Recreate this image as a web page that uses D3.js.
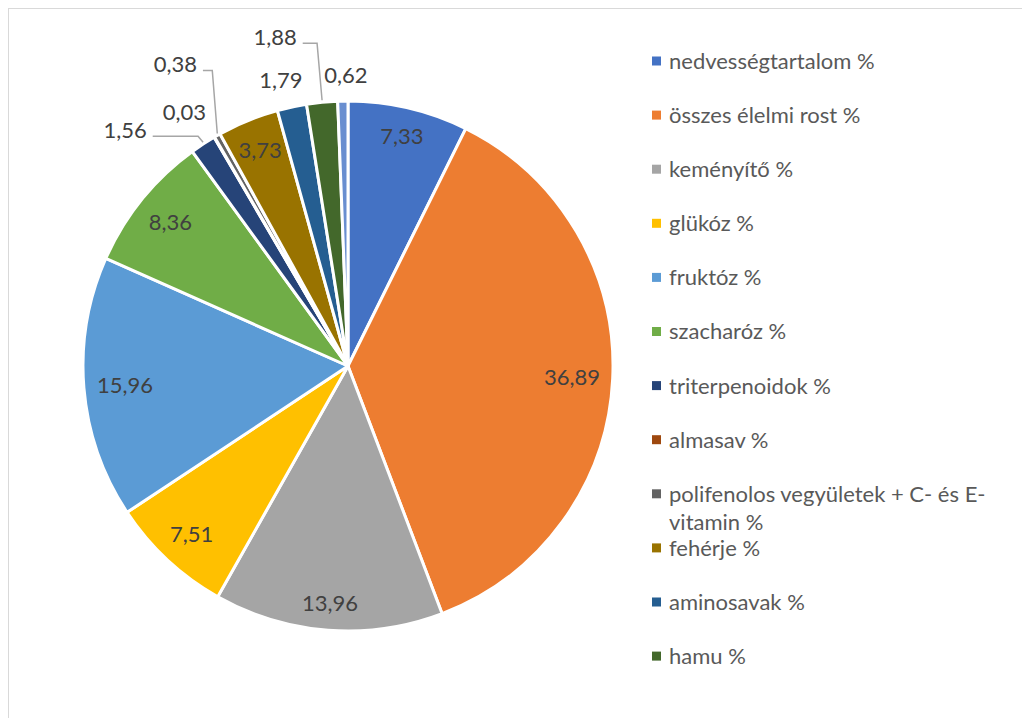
<!DOCTYPE html>
<html>
<head>
<meta charset="utf-8">
<script src="https://cdn.jsdelivr.net/npm/d3@7"></script>
<style>
  body { margin: 0; background: #fff; }
  svg { display: block; }
  text { font-family: Lato, "Open Sans", "Liberation Sans", sans-serif; }
</style>
</head>
<body>
<svg id="chart" width="1022" height="718"></svg>
<script>
// Composition (%), in drawing order, clockwise from 12 o'clock
const categories = [
  "nedvességtartalom %",
  "összes élelmi rost %",
  "keményítő %",
  "glükóz %",
  "fruktóz %",
  "szacharóz %",
  "triterpenoidok %",
  "almasav %",
  "polifenolos vegyületek + C- és E-vitamin %",
  "fehérje %",
  "aminosavak %",
  "hamu %",
  "egyéb %"
];
const values = [7.33, 36.89, 13.96, 7.51, 15.96, 8.36, 1.56, 0.03, 0.38, 3.73, 1.79, 1.88, 0.62];
const colors = [
  "#4472C4", "#ED7D31", "#A5A5A5", "#FFC000", "#5B9BD5", "#70AD47",
  "#264478", "#9E480E", "#636363", "#997300", "#255E91", "#43682B", "#698ED0"
];

// Layout
const W = 1022, H = 718;
const cx = 348, cy = 366, R = 265;
const legendX = 652, legendY0 = 61, legendStep = 54.1, legendRows = 12;
const fontSize = 22;
// Small slices get their value written outside, shifted from the rim point
const outsideLabels = {
  6:  { dx: -78, dy: -14, leader: true },
  7:  { dx: -30, dy: -25, leader: false },
  8:  { dx: -42, dy: -71, leader: true },
  10: { dx: -11, dy: -27, leader: false },
  11: { dx: -47, dy: -65, leader: true },
  12: { dx:   3, dy: -26, leader: false }
};

const fmt = v => v.toFixed(2).replace(".", ",");
const data = categories.map((c, i) => ({ name: c, value: values[i], color: colors[i], idx: i }));

const svg = d3.select("#chart");
svg.append("rect").attr("width", W).attr("height", H).attr("fill", "#fff");
// chart-area frame
svg.append("rect")
  .attr("x", 8.5).attr("y", 8.5).attr("width", W + 20).attr("height", H + 20)
  .attr("fill", "none").attr("stroke", "#d9d9d9").attr("stroke-width", 1);

const pie = d3.pie().sort(null).value(d => d.value).startAngle(0).endAngle(2 * Math.PI);
const arcs = pie(data);
const arc = d3.arc().innerRadius(0).outerRadius(R);

const g = svg.append("g").attr("transform", `translate(${cx},${cy})`);
g.selectAll("path.slice")
  .data(arcs)
  .join("path")
  .attr("class", "slice")
  .attr("d", arc)
  .attr("fill", d => d.data.color)
  .attr("stroke", "#fff")
  .attr("stroke-width", 3)
  .attr("stroke-linejoin", "round");

// Data labels
const labelG = g.append("g");
arcs.forEach(a => {
  const i = a.data.idx;
  const mid = (a.startAngle + a.endAngle) / 2;
  const ux = Math.sin(mid), uy = -Math.cos(mid);
  const t = labelG.append("text")
    .attr("font-size", fontSize)
    .attr("fill", "#404040")
    .attr("text-anchor", "middle")
    .attr("dy", "0.36em")
    .text(fmt(a.data.value));
  const w = t.node().getComputedTextLength();
  const h = 24;
  if (outsideLabels[i]) {
    const o = outsideLabels[i];
    const ax = R * ux, ay = R * uy;
    const lx = ax + o.dx, ly = ay + o.dy;
    t.attr("x", lx).attr("y", ly);
    if (o.leader) {
      const sx = lx + w / 2 + 6, sy = ly + 6;
      labelG.append("path")
        .attr("d", d3.line()([[sx, sy], [ax - 5, sy], [ax, ay - 2]]))
        .attr("fill", "none")
        .attr("stroke", "#a6a6a6")
        .attr("stroke-width", 1.5);
    }
  } else {
    // push the label outward until its box touches an inner margin of the rim
    const lim = R - 12;
    const px = w / 2, py = h / 2;
    const bx = Math.abs(ux), by = Math.abs(uy);
    // solve (bx*d+px)^2 + (by*d+py)^2 = lim^2
    const B = 2 * (bx * px + by * py);
    const C = px * px + py * py - lim * lim;
    const d = (-B + Math.sqrt(B * B - 4 * C)) / 2;
    t.attr("x", d * ux).attr("y", d * uy);
  }
});

// Legend (room for twelve rows)
const leg = svg.append("g");
data.slice(0, legendRows).forEach((d, i) => {
  const y = legendY0 + i * legendStep;
  leg.append("rect")
    .attr("x", legendX).attr("y", y - 4.5)
    .attr("width", 9).attr("height", 9)
    .attr("fill", d.color);
  const t = leg.append("text")
    .attr("x", legendX + 17).attr("y", y)
    .attr("font-size", fontSize)
    .attr("fill", "#595959");
  // wrap long entries after spaces or hyphens
  const maxW = 340;
  const tokens = d.name.match(/[^\s-]+-?\s*|\s+/g);
  let lines = [], cur = "";
  const probe = t.append("tspan");
  tokens.forEach(tok => {
    const test = cur + tok;
    probe.text(test.trimEnd());
    if (cur && probe.node().getComputedTextLength() > maxW) {
      lines.push(cur.trimEnd());
      cur = tok;
    } else {
      cur = test;
    }
  });
  lines.push(cur.trimEnd());
  probe.remove();
  lines.forEach((ln, k) => {
    t.append("tspan")
      .attr("x", legendX + 17)
      .attr("dy", k === 0 ? "0.36em" : 28)
      .text(ln);
  });
});
</script>
</body>
</html>
